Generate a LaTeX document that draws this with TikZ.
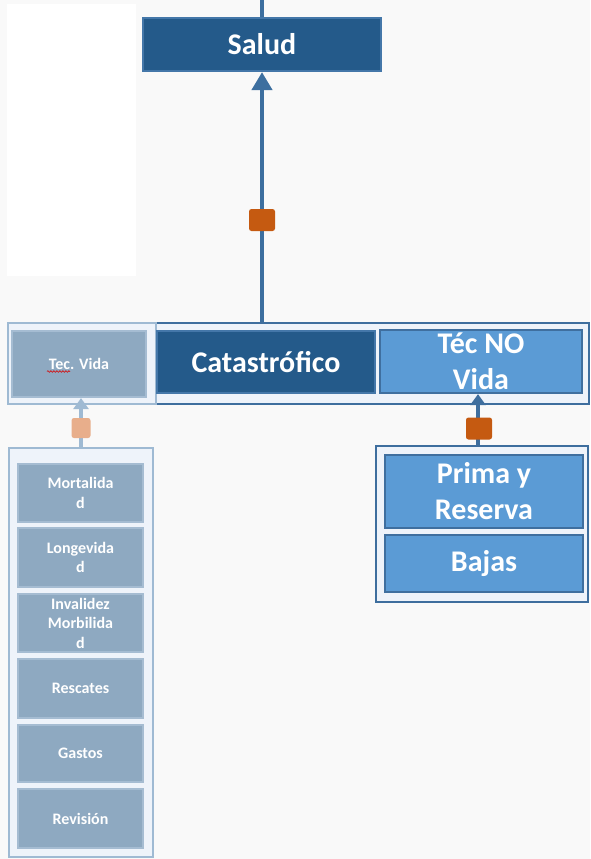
\documentclass[tikz,border=0pt]{standalone}
\usepackage{fontspec}
\setmainfont{Carlito}
\usetikzlibrary{arrows.meta,decorations.pathmorphing}

\definecolor{bgpaper}{HTML}{F9F9F9}
\definecolor{navy}{HTML}{245A8A}
\definecolor{navyedge}{HTML}{4477A9}
\definecolor{midblue}{HTML}{5B9BD5}
\definecolor{midedge}{HTML}{3F6F9F}
\definecolor{greyblue}{HTML}{8EA9C1}
\definecolor{greyedge}{HTML}{A5BCD2}
\definecolor{paleback}{HTML}{EEF3FA}
\definecolor{lightline}{HTML}{9FBAD3}
\definecolor{darkline}{HTML}{3E6E9E}
\definecolor{linkblue}{HTML}{3D6F9F}
\definecolor{rust}{HTML}{C55A11}
\definecolor{peach}{HTML}{E8AE8B}

\tikzset{
  bigtext/.style={font=\bfseries\fontsize{30}{36}\selectfont, text=white, align=center},
  smalltext/.style={font=\bfseries\fontsize{16}{19.5}\selectfont, text=white, align=center},
  box/.style={rectangle, inner sep=0pt, line width=2.2pt},
  navybox/.style={box, fill=navy, draw=navyedge, bigtext},
  midbox/.style={box, fill=midblue, draw=midedge, bigtext},
  greybox/.style={box, fill=greyblue, draw=greyedge, smalltext},
  lightholder/.style={rectangle, inner sep=0pt, fill=paleback, draw=lightline, line width=2.6pt},
  darkholder/.style={rectangle, inner sep=0pt, fill=paleback, draw=darkline, line width=2.6pt},
  mainlink/.style={draw=linkblue, line width=4.2pt},
  mainarrow/.style={mainlink, -{Triangle[width=20pt,length=18pt]}},
  darkarrow/.style={draw=darkline, line width=4pt, -{Triangle[width=15pt,length=11pt]}},
  lightarrow/.style={draw=lightline, line width=4pt, -{Triangle[width=15pt,length=11pt]}},
  marker/.style={rectangle, rounded corners=2.5pt, inner sep=0pt, minimum width=26pt, minimum height=22pt},
}

\begin{document}
\begin{tikzpicture}[x=1pt,y=-1pt]
  % page
  \fill[bgpaper] (0,0) rectangle (590,859);
  \useasboundingbox (0,0) rectangle (590,859);
  \fill[white] (7,4) rectangle (136,276);

  % top level
  \node[navybox, minimum width=238pt, minimum height=53pt] (salud) at (262,44.5) {Salud};
  \coordinate (top) at (262,0);

  % middle row holders
  \node[darkholder, minimum width=433pt, minimum height=81pt] (rowdark) at (372.5,363.5) {};
  \node[lightholder, minimum width=148pt, minimum height=81pt] (rowlight) at (82,363.5) {};

  \node[greybox, minimum width=134pt, minimum height=66pt] (tecvida) at (79,364) {Tec. Vida};
  \node[navybox, minimum width=218pt, minimum height=62pt] (cat) at (266,362) {Catastrófico};
  \node[midbox, minimum width=202pt, minimum height=63pt] (tecno) at (481,361.5) {Téc NO\\Vida};

  % spelling mark under "Tec"
  \draw[red!85!black, line width=0.6pt, decorate,
        decoration={snake, segment length=3pt, amplitude=0.8pt}]
    (tecvida.center) ++(-32,7.5) -- ++(23,0);

  % left column
  \node[lightholder, minimum width=144pt, minimum height=409pt] (leftcol) at (81,652.5) {};
  \node[greybox, minimum width=125pt, minimum height=58pt] (mort) at (80.5,493) {Mortalida\\d};
  \node[greybox, minimum width=125pt, minimum height=59pt] (longe) at (80.5,557.5) {Longevida\\d};
  \node[greybox, minimum width=125pt, minimum height=58pt] (inval) at (80.5,623) {Invalidez\\Morbilida\\d};
  \node[greybox, minimum width=125pt, minimum height=59pt] (resc) at (80.5,688.5) {Rescates};
  \node[greybox, minimum width=125pt, minimum height=57pt] (gast) at (80.5,753.5) {Gastos};
  \node[greybox, minimum width=125pt, minimum height=59pt] (revi) at (80.5,818.5) {Revisión};

  % right column
  \node[darkholder, minimum width=212pt, minimum height=156pt] (rightcol) at (482,524) {};
  \node[midbox, minimum width=198pt, minimum height=73pt] (prima) at (484,491.5) {Prima y\\Reserva};
  \node[midbox, minimum width=198pt, minimum height=57pt] (bajas) at (484,563.5) {Bajas};

  % connectors
  \draw[mainlink] (top) -- (salud.north);
  \draw[mainarrow] (rowdark.north -| salud.south) -- (salud.south);
  \node[marker, fill=rust] (m1) at (262,220) {};

  \coordinate (lfoot) at (81,448);
  \draw[lightarrow] (lfoot) -- (lfoot |- tecvida.south);
  \node[marker, fill=peach, minimum width=19pt, minimum height=20pt] (m2) at (81,428) {};

  \coordinate (rfoot) at (478,446);
  \draw[darkarrow] (rfoot) -- (rfoot |- tecno.south);
  \node[marker, fill=rust] (m3) at (479,428.5) {};
\end{tikzpicture}
\end{document}
